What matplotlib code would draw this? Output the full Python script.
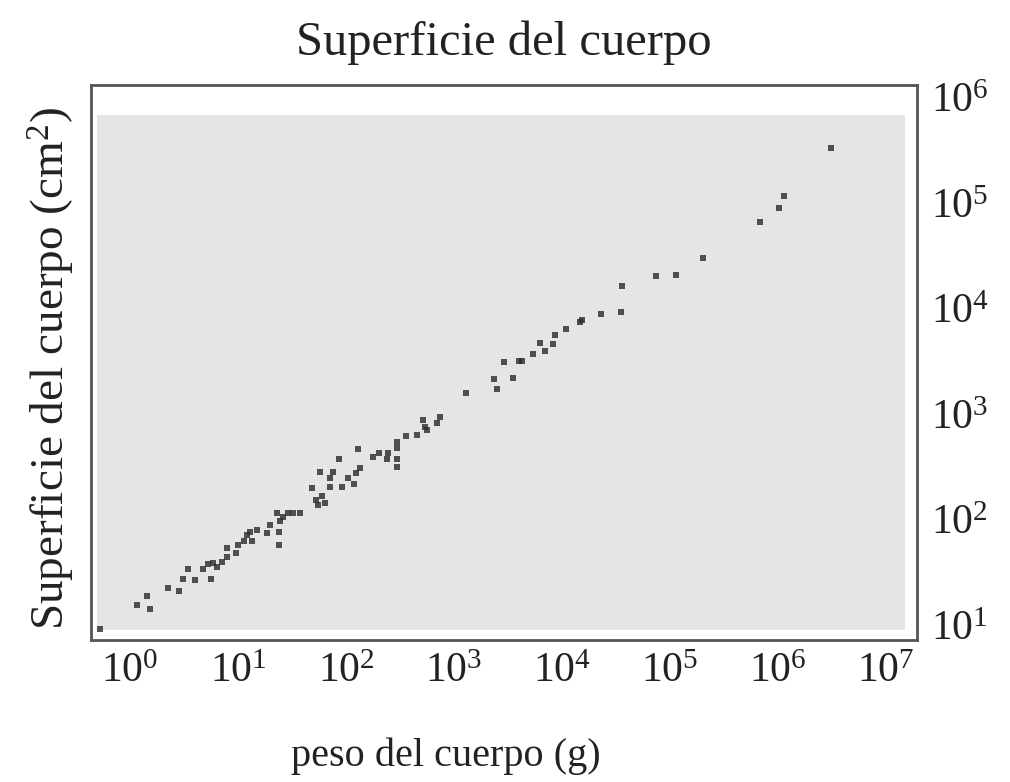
import numpy as np
import matplotlib
matplotlib.use("Agg")
import matplotlib.pyplot as plt
from matplotlib.patches import Rectangle

plt.rcParams['font.family'] = ['Liberation Serif', 'DejaVu Serif']
plt.rcParams['mathtext.fontset'] = 'custom'
plt.rcParams['mathtext.rm'] = 'Liberation Serif'
plt.rcParams['mathtext.it'] = 'Liberation Serif:italic'

# Values, in decades (log10) of the axis units
log_peso = [-0.28, 0.065, 0.16, 0.185, 0.35, 0.45, 0.49, 0.54, 0.60, 0.75, 0.68, 0.72,
            0.77, 0.81, 0.85, 0.90, 0.90, 0.98, 1.00, 1.06, 1.08, 1.11, 1.13, 1.18,
            1.27, 1.30, 1.36, 1.39, 1.38, 1.38, 1.42, 1.46, 1.57, 1.69, 1.72, 1.74,
            1.78, 1.81, 1.85, 1.85, 1.96, 2.02, 2.07, 2.09, 1.88, 1.51, 1.76, 1.94,
            2.11, 2.13, 2.25, 2.31, 2.38, 2.39, 2.47, 2.47, 2.47, 2.47, 2.56, 2.66,
            2.71, 2.73, 2.75, 2.84, 2.87, 3.11, 3.37, 3.40, 3.46, 3.55, 3.60, 3.63,
            3.73, 3.80, 3.84, 3.92, 3.94, 4.04, 4.17, 4.19, 4.36, 4.55, 4.56, 4.87,
            5.06, 5.31, 5.83, 6.01, 6.06, 6.49]
log_superficie = [0.96, 1.19, 1.27, 1.15, 1.35, 1.32, 1.44, 1.53, 1.43, 1.44, 1.53, 1.58,
                  1.59, 1.55, 1.60, 1.64, 1.73, 1.68, 1.76, 1.80, 1.85, 1.88, 1.80, 1.90,
                  1.87, 1.95, 2.06, 1.99, 1.88, 1.76, 2.02, 2.06, 2.06, 2.30, 2.18, 2.14,
                  2.22, 2.16, 2.31, 2.39, 2.31, 2.39, 2.34, 2.44, 2.45, 2.06, 2.45, 2.57,
                  2.67, 2.49, 2.59, 2.63, 2.57, 2.63, 2.68, 2.73, 2.57, 2.50, 2.79, 2.80,
                  2.94, 2.88, 2.85, 2.91, 2.97, 3.20, 3.33, 3.24, 3.49, 3.34, 3.50, 3.50,
                  3.57, 3.67, 3.60, 3.66, 3.75, 3.80, 3.87, 3.89, 3.95, 3.97, 4.21, 4.31,
                  4.32, 4.48, 4.82, 4.95, 5.06, 5.52]

x_ticks = [1e0, 1e1, 1e2, 1e3, 1e4, 1e5, 1e6, 1e7]
y_ticks = [1e1, 1e2, 1e3, 1e4, 1e5, 1e6]

title = "Superficie del cuerpo"
xlabel = "peso del cuerpo (g)"
ylabel = "Superficie del cuerpo (cm$^2$)"

peso = np.power(10.0, log_peso)
superficie = np.power(10.0, log_superficie)

fig = plt.figure(figsize=(10.1, 7.82), dpi=100)
ax = fig.add_axes([0.090, 0.1816, 0.818, 0.7094])
ax.set_xscale('log')
ax.set_yscale('log')
ax.set_xlim(0.435, 1.94e7)
ax.set_ylim(7.21, 1.30e6)

ax.add_patch(Rectangle((0.0073, 0.018), 0.978, 0.928, transform=ax.transAxes,
                       facecolor='#e5e5e7', edgecolor='none', zorder=0))
ax.scatter(peso, superficie, marker='s', s=18, color='#2a2a2a', alpha=0.8,
           linewidths=0, zorder=2)

ax.set_xticks(x_ticks)
ax.set_yticks(y_ticks)
ax.xaxis.set_minor_locator(matplotlib.ticker.NullLocator())
ax.yaxis.set_minor_locator(matplotlib.ticker.NullLocator())
ax.yaxis.tick_right()
ax.tick_params(axis='both', length=0, labelsize=30, colors='#222222')
ax.tick_params(axis='x', pad=9)
ax.tick_params(axis='y', pad=10)

for sp in ax.spines.values():
    sp.set_color('#555555')
    sp.set_linewidth(2.0)

ax.set_title(title, fontsize=35, pad=22, color='#222222')
ax.set_xlabel(xlabel, fontsize=29, color='#222222')
ax.xaxis.set_label_coords(0.43, -0.175)
ax.set_ylabel(ylabel, fontsize=34, color='#222222')
ax.yaxis.set_label_position('left')
ax.yaxis.set_label_coords(-0.017, 0.49)

fig.savefig("out.png", dpi=100, facecolor='white')
